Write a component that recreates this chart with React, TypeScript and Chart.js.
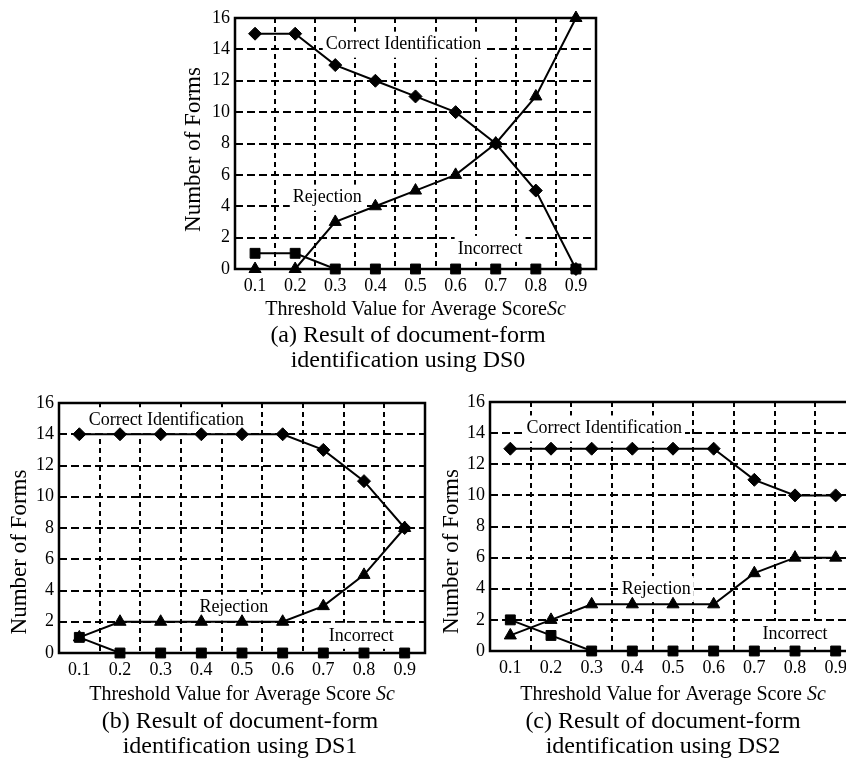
import React, { useEffect, useRef } from 'react';
import { Chart, registerables } from 'chart.js';

Chart.register(...registerables);

const SERIF = '"Liberation Serif", "Times New Roman", Times, serif';

// ---- data ----
const thresholds = ['0.1', '0.2', '0.3', '0.4', '0.5', '0.6', '0.7', '0.8', '0.9'];
const yTickValues = [0, 2, 4, 6, 8, 10, 12, 14, 16];

const ds0Correct = [15, 15, 13, 12, 11, 10, 8, 5, 0];
const ds0Rejection = [0, 0, 3, 4, 5, 6, 8, 11, 16];
const ds0Incorrect = [1, 1, 0, 0, 0, 0, 0, 0, 0];

const ds1Correct = [14, 14, 14, 14, 14, 14, 13, 11, 8];
const ds1Rejection = [1, 2, 2, 2, 2, 2, 3, 5, 8];
const ds1Incorrect = [1, 0, 0, 0, 0, 0, 0, 0, 0];

const ds2Correct = [13, 13, 13, 13, 13, 13, 11, 10, 10];
const ds2Rejection = [1, 2, 3, 3, 3, 3, 5, 6, 6];
const ds2Incorrect = [2, 1, 0, 0, 0, 0, 0, 0, 0];

const seriesNames = ['Correct Identification', 'Rejection', 'Incorrect'];

// in-plot label anchors, in data units (x = category index, y = value)
const labelXA = [3.7, 1.8, 5.86];
const labelYA = [14.3, 4.55, 1.28];
const labelXB = [2.14, 3.8, 6.93];
const labelYB = [14.9, 2.9, 1.1];
const labelXC = [2.31, 3.59, 7.0];
const labelYC = [14.3, 3.98, 1.09];

const xTitleMain = 'Threshold Value for Average Score';
const xTitleItalic = 'Sc';
const yTitle = 'Number of Forms';
const captionA = ['(a) Result of document-form', 'identification using DS0'];
const captionB = ['(b) Result of document-form', 'identification using DS1'];
const captionC = ['(c) Result of document-form', 'identification using DS2'];

const paperTextPlugin = {
  id: 'paperText',
  beforeDatasetsDraw(chart: any, _args: any, opts: any) {
    const { ctx, chartArea: a, scales } = chart;
    ctx.save();
    ctx.setLineDash([]);
    // in-plot labels with white boxes
    ctx.font = `18px ${SERIF}`;
    ctx.textAlign = 'center';
    ctx.textBaseline = 'middle';
    seriesNames.forEach((name, i) => {
      const px = scales.x.getPixelForValue(opts.lx[i]);
      const py = scales.y.getPixelForValue(opts.ly[i]);
      const w = ctx.measureText(name).width;
      ctx.fillStyle = '#ffffff';
      ctx.fillRect(px - w / 2 - 3, py - 13, w + 6, 26);
      ctx.fillStyle = '#000000';
      ctx.fillText(name, px, py);
    });
    // frame
    ctx.strokeStyle = '#000000';
    ctx.lineWidth = 2.5;
    ctx.strokeRect(a.left, a.top, a.right - a.left, a.bottom - a.top);
    // x title
    const mainText = xTitleMain + (opts.gap ? ' ' : '');
    ctx.font = `20px ${SERIF}`;
    const w1 = ctx.measureText(mainText).width;
    ctx.font = `italic 20px ${SERIF}`;
    const w2 = ctx.measureText(xTitleItalic).width;
    const cx = (a.left + a.right) / 2;
    const ty = a.bottom + opts.xTitleGap;
    const x0 = cx - (w1 + w2) / 2;
    ctx.textAlign = 'left';
    ctx.font = `20px ${SERIF}`;
    ctx.fillText(mainText, x0, ty);
    ctx.font = `italic 20px ${SERIF}`;
    ctx.fillText(xTitleItalic, x0 + w1, ty);
    // y title
    ctx.font = `23px ${SERIF}`;
    ctx.textAlign = 'center';
    ctx.translate(a.left - opts.yTitleGap, (a.top + a.bottom) / 2 + opts.yTitleShift);
    ctx.rotate(-Math.PI / 2);
    ctx.fillText(yTitle, 0, 0);
    ctx.restore();
  },
};

function mkDataset(label: string, data: number[], pointStyle: string, r: number) {
  return {
    label,
    data,
    borderColor: '#000000',
    backgroundColor: '#000000',
    borderWidth: 2,
    pointStyle,
    pointRadius: r,
    pointBackgroundColor: '#000000',
    pointBorderColor: '#000000',
    pointBorderWidth: 1,
    tension: 0,
    fill: false,
    clip: false,
  };
}

type PanelProps = {
  left: number;
  top: number;
  width: number;
  height: number;
  padTop: number;
  padRight: number;
  padBottom: number;
  yAxisW: number;
  xAxisH: number;
  xTickPad: number;
  correct: number[];
  rejection: number[];
  incorrect: number[];
  lx: number[];
  ly: number[];
  gap: boolean;
  xTitleGap: number;
  yTitleGap: number;
  yTitleShift: number;
};

function Panel(p: PanelProps) {
  const ref = useRef<HTMLCanvasElement>(null);
  useEffect(() => {
    const tickFont = { family: SERIF, size: 18 };
    const chart = new Chart(ref.current as HTMLCanvasElement, {
      type: 'line',
      data: {
        labels: thresholds,
        datasets: [
          mkDataset(seriesNames[0], p.correct, 'rectRot', 6.5),
          mkDataset(seriesNames[1], p.rejection, 'triangle', 7),
          mkDataset(seriesNames[2], p.incorrect, 'rect', 7),
        ] as any,
      },
      options: {
        responsive: false,
        animation: false,
        devicePixelRatio: 1,
        layout: { padding: { top: p.padTop, right: p.padRight, bottom: p.padBottom, left: 0 } },
        plugins: {
          legend: { display: false },
          tooltip: { enabled: false },
          paperText: { lx: p.lx, ly: p.ly, gap: p.gap, xTitleGap: p.xTitleGap, yTitleGap: p.yTitleGap, yTitleShift: p.yTitleShift },
        } as any,
        scales: {
          x: {
            type: 'category',
            offset: true,
            grid: { offset: true, color: '#000000', lineWidth: 2, drawTicks: false },
            border: { display: false, dash: [5, 4] },
            ticks: { color: '#000000', font: tickFont, padding: p.xTickPad, maxRotation: 0, autoSkip: false },
            afterFit: (s: any) => { s.height = p.xAxisH; },
          },
          y: {
            min: 0,
            max: 16,
            grid: { color: '#000000', lineWidth: 2, drawTicks: false },
            border: { display: false, dash: [8, 4] },
            ticks: { color: '#000000', font: tickFont, padding: 5 },
            afterBuildTicks: (s: any) => { s.ticks = yTickValues.map((v) => ({ value: v })); },
            afterFit: (s: any) => { s.width = p.yAxisW; },
          },
        } as any,
      },
      plugins: [paperTextPlugin as any],
    });
    return () => chart.destroy();
  }, []);
  return (
    <canvas
      ref={ref}
      width={p.width}
      height={p.height}
      style={{ position: 'absolute', left: p.left, top: p.top, width: p.width, height: p.height }}
    />
  );
}

function Caption({ lines, cx, top }: { lines: string[]; cx: number; top: number }) {
  return (
    <div
      style={{
        position: 'absolute',
        left: cx - 200,
        top,
        width: 400,
        textAlign: 'center',
        fontFamily: SERIF,
        fontSize: 24,
        lineHeight: '25px',
        color: '#000',
        whiteSpace: 'nowrap',
      }}
    >
      <div>{lines[0]}</div>
      <div>{lines[1]}</div>
    </div>
  );
}

export default function App() {
  return (
    <div
      style={{
        position: 'fixed',
        left: 0,
        top: 0,
        width: 846,
        height: 759,
        overflow: 'hidden',
        background: '#ffffff',
      }}
    >
      <Panel
        left={160} top={0} width={460} height={330}
        padTop={18} padRight={24} padBottom={30} yAxisW={75} xAxisH={31} xTickPad={6}
        correct={ds0Correct} rejection={ds0Rejection} incorrect={ds0Incorrect}
        lx={labelXA} ly={labelYA} gap={false}
        xTitleGap={41} yTitleGap={41} yTitleShift={6}
      />
      <Panel
        left={0} top={380} width={440} height={340}
        padTop={23} padRight={15} padBottom={40} yAxisW={59} xAxisH={27} xTickPad={6}
        correct={ds1Correct} rejection={ds1Rejection} incorrect={ds1Incorrect}
        lx={labelXB} ly={labelYB} gap={true}
        xTitleGap={42} yTitleGap={39} yTitleShift={24}
      />
      <Panel
        left={430} top={380} width={440} height={340}
        padTop={22} padRight={14} padBottom={40} yAxisW={60} xAxisH={29} xTickPad={6}
        correct={ds2Correct} rejection={ds2Rejection} incorrect={ds2Incorrect}
        lx={labelXC} ly={labelYC} gap={true}
        xTitleGap={44} yTitleGap={38} yTitleShift={25}
      />
      <Caption lines={captionA} cx={408} top={322} />
      <Caption lines={captionB} cx={240} top={708} />
      <Caption lines={captionC} cx={663} top={708} />
    </div>
  );
}
